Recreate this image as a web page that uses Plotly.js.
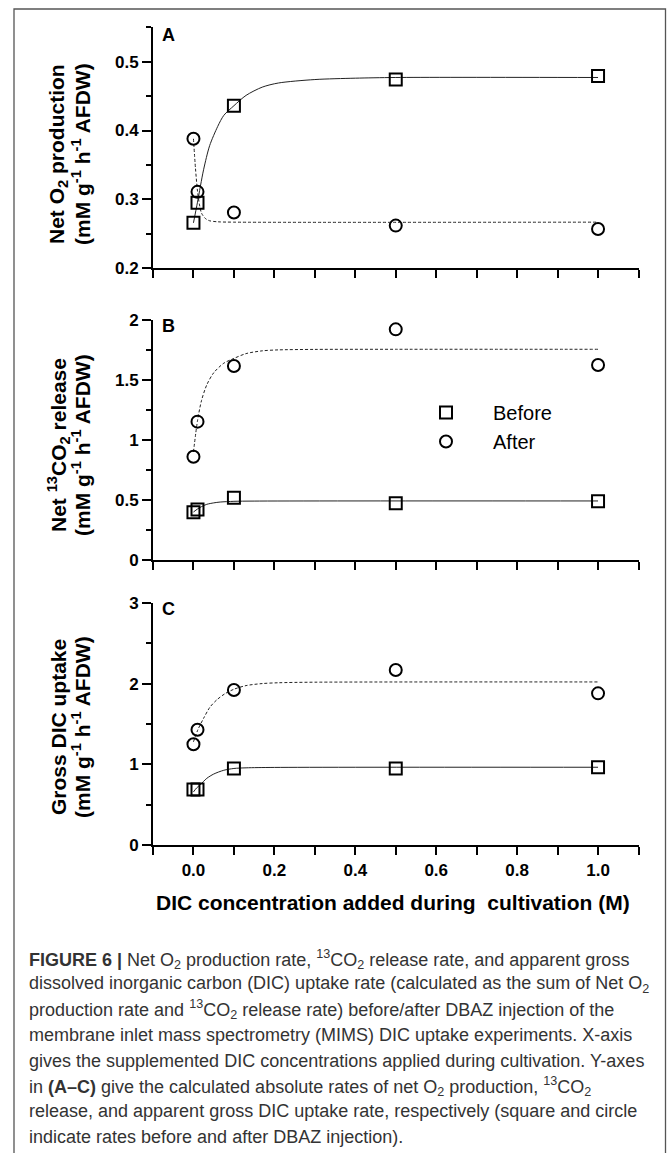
<!DOCTYPE html>
<html><head><meta charset="utf-8">
<script src="https://cdn.plot.ly/plotly-3.0.1.min.js"></script>
<style>html,body{margin:0;padding:0;background:#fff}</style>
</head><body><div id="chart" style="width:667px;height:1153px"></div>
<script>
// ---- data ----
const dicConc = [0, 0.01, 0.1, 0.5, 1.0];

const netO2Before = [0.266, 0.295, 0.436, 0.474, 0.479];
const netO2After  = [0.388, 0.311, 0.281, 0.262, 0.257];
const co2Before   = [0.397, 0.420, 0.519, 0.472, 0.490];
const co2After    = [0.861, 1.153, 1.617, 1.922, 1.625];
const dicBefore   = [0.690, 0.690, 0.950, 0.950, 0.964];
const dicAfter    = [1.250, 1.428, 1.920, 2.167, 1.879];

// fitted curves
const fitA_beforeX = [0, 0.01, 0.025, 0.04, 0.06, 0.075, 0.1, 0.13, 0.17, 0.21, 0.3, 0.4, 0.5, 1.0];
const fitA_beforeY = [0.266, 0.296, 0.343, 0.378, 0.406, 0.422, 0.436, 0.451, 0.463, 0.469, 0.474, 0.476, 0.477, 0.477];
const fitA_afterX  = [0, 0.005, 0.01, 0.015, 0.02, 0.03, 0.04, 0.06, 0.1, 1.0];
const fitA_afterY  = [0.388, 0.345, 0.312, 0.292, 0.280, 0.272, 0.269, 0.2675, 0.267, 0.267];
const fitB_beforeX = [0, 0.01, 0.02, 0.033, 0.05, 0.066, 0.1, 0.15, 1.0];
const fitB_beforeY = [0.40, 0.425, 0.445, 0.464, 0.476, 0.483, 0.489, 0.491, 0.492];
const fitB_afterX  = [0, 0.01, 0.02, 0.033, 0.05, 0.075, 0.1, 0.13, 0.17, 0.21, 0.3, 0.5, 1.0];
const fitB_afterY  = [0.90, 1.16, 1.33, 1.46, 1.56, 1.64, 1.68, 1.72, 1.743, 1.751, 1.755, 1.756, 1.756];
const fitC_beforeX = [0, 0.008, 0.016, 0.033, 0.05, 0.075, 0.1, 0.13, 0.2, 1.0];
const fitC_beforeY = [0.66, 0.71, 0.745, 0.828, 0.881, 0.928, 0.950, 0.958, 0.963, 0.965];
const fitC_afterX  = [0, 0.011, 0.025, 0.041, 0.058, 0.078, 0.1, 0.13, 0.17, 0.21, 0.3, 1.0];
const fitC_afterY  = [1.28, 1.43, 1.57, 1.71, 1.80, 1.875, 1.93, 1.975, 2.0, 2.01, 2.017, 2.02];

const seriesNames = ['Before', 'After'];
const panelLetters = ['A', 'B', 'C'];
const yTitleLine1 = ['Net O<sub>2</sub> production', 'Net <sup>13</sup>CO<sub>2</sub> release', 'Gross DIC uptake'];
const yTitleLine2 = '(mM g<sup>-1</sup> h<sup>-1</sup> AFDW)';
const xTitle = 'DIC concentration added during  cultivation (M)';
const xTickVals = [0, 0.2, 0.4, 0.6, 0.8, 1.0];
const captionLines = [
  '<b>FIGURE 6 |</b> Net O<sub>2</sub> production rate, <sup>13</sup>CO<sub>2</sub> release rate, and apparent gross',
  'dissolved inorganic carbon (DIC) uptake rate (calculated as the sum of Net O<sub>2</sub>',
  'production rate and <sup>13</sup>CO<sub>2</sub> release rate) before/after DBAZ injection of the',
  'membrane inlet mass spectrometry (MIMS) DIC uptake experiments. X-axis',
  'gives the supplemented DIC concentrations applied during cultivation. Y-axes',
  'in <b>(A–C)</b> give the calculated absolute rates of net O<sub>2</sub> production, <sup>13</sup>CO<sub>2</sub>',
  'release, and apparent gross DIC uptake rate, respectively (square and circle',
  'indicate rates before and after DBAZ injection).'
];

// ---- layout helpers (pixel -> paper) ----
const W = 667, H = 1153;
const fx = p => p / W;
const fy = p => 1 - p / H;
const FONT = 'Liberation Sans, Arial, Helvetica, sans-serif';

const panels = [
  {xa:'x',  ya:'y',  before: netO2Before, after: netO2After, fb:[fitA_beforeX, fitA_beforeY], fa:[fitA_afterX, fitA_afterY], legend:false},
  {xa:'x2', ya:'y2', before: co2Before,   after: co2After,   fb:[fitB_beforeX, fitB_beforeY], fa:[fitB_afterX, fitB_afterY], legend:true},
  {xa:'x3', ya:'y3', before: dicBefore,   after: dicAfter,   fb:[fitC_beforeX, fitC_beforeY], fa:[fitC_afterX, fitC_afterY], legend:false}
];

const traces = [];
panels.forEach(p => {
  traces.push({x:p.fb[0], y:p.fb[1], xaxis:p.xa, yaxis:p.ya, mode:'lines', showlegend:false, hoverinfo:'skip',
    line:{color:'#222', width:1, shape:'spline', smoothing:0.8}});
  traces.push({x:p.fa[0], y:p.fa[1], xaxis:p.xa, yaxis:p.ya, mode:'lines', showlegend:false, hoverinfo:'skip',
    line:{color:'#222', width:1, dash:'3px,2px', shape:'spline', smoothing:0.8}});
  traces.push({x:dicConc, y:p.before, xaxis:p.xa, yaxis:p.ya, mode:'markers', name:seriesNames[0], showlegend:p.legend,
    marker:{symbol:'square-open', size:12, color:'#000', line:{width:2, color:'#000'}}});
  traces.push({x:dicConc, y:p.after, xaxis:p.xa, yaxis:p.ya, mode:'markers', name:seriesNames[1], showlegend:p.legend,
    marker:{symbol:'circle-open', size:12, color:'#000', line:{width:2, color:'#000'}}});
});

const xDom = [fx(153), fx(638.5)];
const tickFont = {family: FONT, size: 17, color: '#000', weight: 'bold'};
function xAxis(anchor, labels){
  return {domain:xDom, anchor:anchor, range:[-0.1, 1.1], showline:true, linewidth:2, linecolor:'#000',
    showgrid:false, zeroline:false, ticks:'outside', ticklen:8, tickwidth:2, tickcolor:'#000',
    tickmode:'array', tickvals:xTickVals, ticktext: xTickVals.map(v => v.toFixed(1)), showticklabels:labels,
    tickfont:{family:FONT, size:17, color:'#000', weight:'bold'},
    minor:{dtick:0.1, tick0:0, ticks:'outside', ticklen:8, tickwidth:2, tickcolor:'#000', showgrid:false}};
}
function yAxis(anchor, dom, range, dtick, minor, fmt){
  return {domain:dom, anchor:anchor, range:range, showline:true, linewidth:2, linecolor:'#000',
    showgrid:false, zeroline:false, ticks:'outside', ticklen:9, tickwidth:2, tickcolor:'#000',
    tick0:range[0], dtick:dtick, tickformat:fmt, tickfont:tickFont,
    minor:{dtick:minor, tick0:range[0], ticks:'outside', ticklen:5, tickwidth:2, tickcolor:'#000', showgrid:false}};
}

const annotations = [];
const letterY = [35, 325.5, 609];
const titleY = [154, 445, 727];
panelLetters.forEach((L, i) => {
  annotations.push({text:L, xref:'paper', yref:'paper', x:fx(160), y:fy(letterY[i]), xanchor:'left', yanchor:'middle',
    showarrow:false, font:{family:FONT, size:18, color:'#000', weight:'bold'}});
  annotations.push({text:yTitleLine1[i], xref:'paper', yref:'paper', x:fx(58), y:fy(titleY[i]), xanchor:'center', yanchor:'middle',
    textangle:-90, showarrow:false, font:{family:FONT, size:21, color:'#000', weight:'bold'}});
  annotations.push({text:yTitleLine2, xref:'paper', yref:'paper', x:fx(81), y:fy(titleY[i]), xanchor:'center', yanchor:'middle',
    textangle:-90, showarrow:false, font:{family:FONT, size:21, color:'#000', weight:'bold'}});
});
annotations.push({text:xTitle, xref:'paper', yref:'paper', x:fx(393), y:fy(902), xanchor:'center', yanchor:'middle',
  showarrow:false, font:{family:FONT, size:21, color:'#000', weight:'bold'}});
captionLines.forEach((t, i) => {
  annotations.push({text:t, xref:'paper', yref:'paper', x:fx(27), y:fy(959 + i*25.4), xanchor:'left', yanchor:'middle',
    showarrow:false, align:'left', font:{family:FONT, size:18, color:'#333'}});
});

const layout = {
  width:W, height:H, margin:{l:0, r:0, t:0, b:0},
  paper_bgcolor:'#fff', plot_bgcolor:'rgba(0,0,0,0)',
  font:{family:FONT, color:'#000'},
  showlegend:true,
  legend:{x:fx(399), y:fy(393), xanchor:'left', yanchor:'top', bgcolor:'rgba(0,0,0,0)', borderwidth:0,
    itemwidth:84, font:{family:FONT, size:20, color:'#000'}, tracegroupgap:0},
  xaxis: xAxis('y', false),
  xaxis2: xAxis('y2', false),
  xaxis3: xAxis('y3', true),
  yaxis: yAxis('x', [fy(268.3), fy(27.2)], [0.2, 0.55], 0.1, 0.05, '.1f'),
  yaxis2: yAxis('x2', [fy(560), fy(320)], [0, 2], 0.5, 0.25, ''),
  yaxis3: yAxis('x3', [fy(845.3), fy(602.7)], [0, 3], 1, 0.5, ''),
  annotations: annotations,
  shapes:[{type:'rect', xref:'paper', yref:'paper', x0:fx(14), x1:fx(665.5), y0:-0.01, y1:fy(9),
    line:{color:'#555', width:1.3}, fillcolor:'rgba(0,0,0,0)'}]
};

Plotly.newPlot('chart', traces, layout, {staticPlot:true, displayModeBar:false});
</script></body></html>
